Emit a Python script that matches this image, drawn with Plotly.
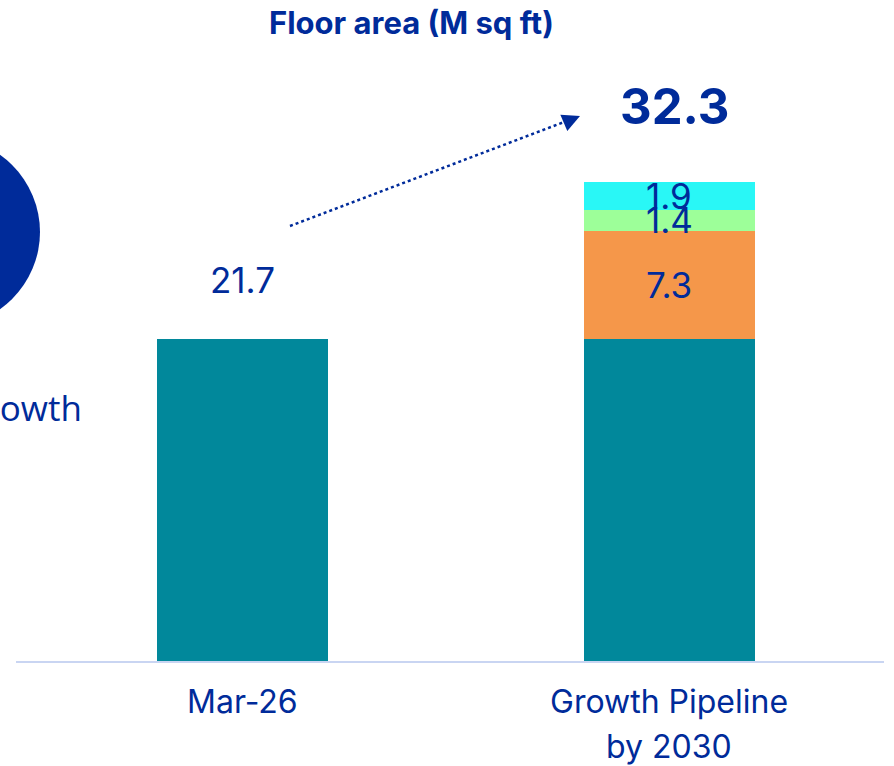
import plotly.graph_objects as go

categories = ["Mar-26", "Growth Pipeline by 2030"]
tick_lines = [["Mar-26"], ["Growth Pipeline", "by 2030"]]
base_values = [21.7, 21.7]
seg2_values = [0, 7.3]
seg3_values = [0, 1.4]
seg4_values = [0, 1.9]
total_label = "32.3"
base_label = "21.7"

W, H = 894, 766
ML, MR, MT, MB = 16, 10, 60, 105
PW, PH = W - ML - MR, H - MT - MB

DARK = "#002B9A"
TEAL = "#01889B"
ORANGE = "#F5974A"
GREEN = "#9DFF99"
CYAN = "#29F7F6"
FONT = "Inter"

def px(xp):
    return (xp - ML) / PW

def py(yp):
    return (H - MB - yp) / PH

fig = go.Figure()
for vals, col in [(base_values, TEAL), (seg2_values, ORANGE), (seg3_values, GREEN), (seg4_values, CYAN)]:
    fig.add_trace(go.Bar(x=categories, y=vals, marker=dict(color=col, line=dict(width=0)),
                         width=0.4, hoverinfo="skip"))

annotations = []
# labels inside stacked segments
cum = base_values[1]
for v in [seg2_values[1], seg3_values[1], seg4_values[1]]:
    annotations.append(dict(x=categories[1], y=cum + v / 2, text=f"{v}", showarrow=False,
                            font=dict(family=FONT, size=35, color=DARK), yanchor="middle"))
    cum += v
annotations.append(dict(x=categories[0], y=base_values[0], text=base_label, showarrow=False,
                        yanchor="bottom", yshift=36, font=dict(family=FONT, size=35, color=DARK)))
annotations.append(dict(x=categories[1], y=cum, text=f"<b>{total_label}</b>", showarrow=False,
                        yanchor="bottom", xshift=5, yshift=44, font=dict(family=FONT, size=49, color=DARK)))
# category labels
for cat, lines in zip(categories, tick_lines):
    for i, line in enumerate(lines):
        annotations.append(dict(x=cat, y=0, text=line, showarrow=False, yanchor="middle",
                                yshift=-(40 + 45 * i), font=dict(family=FONT, size=32, color=DARK)))
# title
annotations.append(dict(xref="paper", yref="paper", x=px(411), y=py(22), text="<b>Floor area (M sq ft)</b>",
                        showarrow=False, xanchor="center", yanchor="middle",
                        font=dict(family=FONT, size=31, color=DARK)))
# left partial text
annotations.append(dict(xref="paper", yref="paper", x=px(84), y=py(408), text="Growth",
                        showarrow=False, xanchor="right", yanchor="middle",
                        font=dict(family="Open Sans", size=35, color=DARK)))
# arrowhead
annotations.append(dict(xref="paper", yref="paper", x=px(580), y=py(116), ax=-14, ay=6,
                        axref="pixel", ayref="pixel", text="", showarrow=True,
                        arrowhead=2, arrowsize=1.6, arrowwidth=2.2, arrowcolor=DARK))

shapes = [
    dict(type="circle", xref="paper", yref="paper", x0=px(-152), x1=px(40), y0=py(327), y1=py(137),
         fillcolor=DARK, line=dict(width=0)),
    dict(type="line", xref="paper", yref="paper", x0=px(290), y0=py(226), x1=px(572), y1=py(119),
         line=dict(color=DARK, width=2.5, dash="dot")),
]

fig.update_layout(
    width=W, height=H, barmode="stack", bargap=0.6,
    margin=dict(l=ML, r=MR, t=MT, b=MB),
    paper_bgcolor="white", plot_bgcolor="white", showlegend=False,
    annotations=annotations, shapes=shapes,
    xaxis=dict(range=[-0.529, 1.502], showline=True, linecolor="#C9D5F2", linewidth=2,
               showgrid=False, zeroline=False, ticks="", showticklabels=False),
    yaxis=dict(range=[0, 601 / 14.84], visible=False, showgrid=False, zeroline=False),
)
fig.write_html("out.html")
